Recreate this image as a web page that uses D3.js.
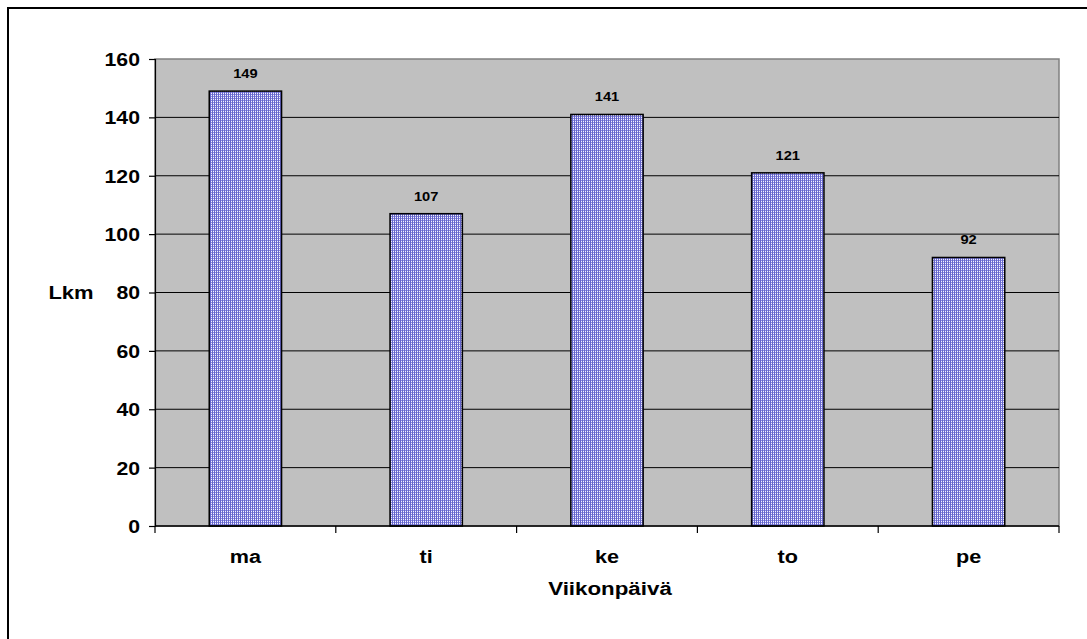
<!DOCTYPE html>
<html>
<head>
<meta charset="utf-8">
<script src="https://cdn.jsdelivr.net/npm/d3@7"></script>
<style>
  body { margin: 0; background: #fff; }
  text { font-family: "Liberation Sans", Arial, sans-serif; font-weight: bold; }
</style>
</head>
<body>
<svg id="canvas"></svg>
<script>
// weekday counts
let days = ['ma', 'ti', 'ke', 'to', 'pe']
let counts = [149, 107, 141, 121, 92]
let yTicks = [0, 20, 40, 60, 80, 100, 120, 140, 160]

let width = 1087
let height = 639
let plot = { left: 155, top: 59, right: 1059, bottom: 526 }

let svg = d3.select('#canvas')
            .attr('width', width)
            .attr('height', height)

// the original text is a bit wider than Arial, stretch it sideways
let stretch = (sel, k) => {
    sel.each(function () {
        let w = this.getComputedTextLength()
        d3.select(this)
          .attr('textLength', w * k)
          .attr('lengthAdjust', 'spacingAndGlyphs')
    })
}

// outer frame
svg.append('rect')
   .attr('x', 8).attr('y', 8)
   .attr('width', width).attr('height', height)
   .attr('fill', 'none')
   .attr('stroke', '#000')
   .attr('stroke-width', 2)

// dotted blue fill like the old excel bars
let defs = svg.append('defs')
let pat = defs.append('pattern')
              .attr('id', 'dots')
              .attr('width', 2).attr('height', 2)
              .attr('patternUnits', 'userSpaceOnUse')
pat.append('rect').attr('width', 2).attr('height', 2).attr('fill', '#f4f4ff')
pat.append('rect').attr('width', 2).attr('height', 1).attr('fill', '#8c8ce0')
pat.append('rect').attr('width', 1).attr('height', 2).attr('fill', '#6666cc')

let x = d3.scaleBand()
          .domain(days)
          .range([plot.left, plot.right])
          .paddingInner(0.6)
          .paddingOuter(0.3)

let y = d3.scaleLinear()
          .domain([0, 160])
          .range([plot.bottom, plot.top])

// plot background
svg.append('rect')
   .attr('x', plot.left).attr('y', plot.top)
   .attr('width', plot.right - plot.left)
   .attr('height', plot.bottom - plot.top)
   .attr('fill', '#c0c0c0')
   .attr('stroke', '#808080')
   .attr('stroke-width', 1.5)

// gridlines
svg.append('g')
   .selectAll('line')
   .data(yTicks.filter(t => t > 0 && t < 160))
   .enter()
   .append('line')
   .attr('x1', plot.left).attr('x2', plot.right)
   .attr('y1', d => y(d)).attr('y2', d => y(d))
   .attr('stroke', '#000')
   .attr('stroke-width', 1)

// bars
svg.append('g')
   .selectAll('rect')
   .data(days)
   .enter()
   .append('rect')
   .attr('x', (d) => x(d))
   .attr('y', (d, i) => y(counts[i]))
   .attr('width', x.bandwidth())
   .attr('height', (d, i) => plot.bottom - y(counts[i]))
   .attr('fill', 'url(#dots)')
   .attr('stroke', '#000')
   .attr('stroke-width', 1.5)

// value labels
let vals = svg.append('g')
   .selectAll('text')
   .data(days)
   .enter()
   .append('text')
   .attr('x', (d) => x(d) + x.bandwidth() / 2)
   .attr('y', (d, i) => y(counts[i]) - 13)
   .attr('text-anchor', 'middle')
   .attr('font-size', 12)
   .text((d, i) => counts[i])
stretch(vals, 1.22)

// y axis
let yAxis = d3.axisLeft(y).tickValues(yTicks).tickSize(6).tickPadding(9)
let gy = svg.append('g')
            .attr('transform', 'translate(' + plot.left + ',0)')
            .call(yAxis)
gy.selectAll('text')
  .attr('font-size', 18)
  .attr('fill', '#000')
  .attr('dy', '0.36em')
stretch(gy.selectAll('text'), 1.18)
gy.selectAll('line, path').attr('stroke', '#000').attr('stroke-width', 1.2)

// x axis: ticks at the category boundaries
let gx = svg.append('g')
            .attr('transform', 'translate(0,' + plot.bottom + ')')
gx.append('line')
  .attr('x1', plot.left).attr('x2', plot.right)
  .attr('stroke', '#000').attr('stroke-width', 1.5)
let bounds = days.map((d, i) => x(d) - x.step() * x.paddingOuter())
bounds.push(plot.right)
gx.selectAll('.tick')
  .data(bounds)
  .enter()
  .append('line')
  .attr('x1', d => d).attr('x2', d => d)
  .attr('y1', 0).attr('y2', 7)
  .attr('stroke', '#000').attr('stroke-width', 1.2)
let cats = gx.selectAll('text')
  .data(days)
  .enter()
  .append('text')
  .attr('x', d => x(d) + x.bandwidth() / 2)
  .attr('y', 37)
  .attr('text-anchor', 'middle')
  .attr('font-size', 18)
  .text(d => d)
stretch(cats, 1.2)

// axis titles
let ytitle = svg.append('text')
   .attr('x', 71).attr('y', 299)
   .attr('text-anchor', 'middle')
   .attr('font-size', 18)
   .text('Lkm')
stretch(ytitle, 1.22)

let xtitle = svg.append('text')
   .attr('x', (plot.left + plot.right) / 2 + 3).attr('y', 595)
   .attr('text-anchor', 'middle')
   .attr('font-size', 18)
   .text('Viikonpäivä')
stretch(xtitle, 1.24)
</script>
</body>
</html>
